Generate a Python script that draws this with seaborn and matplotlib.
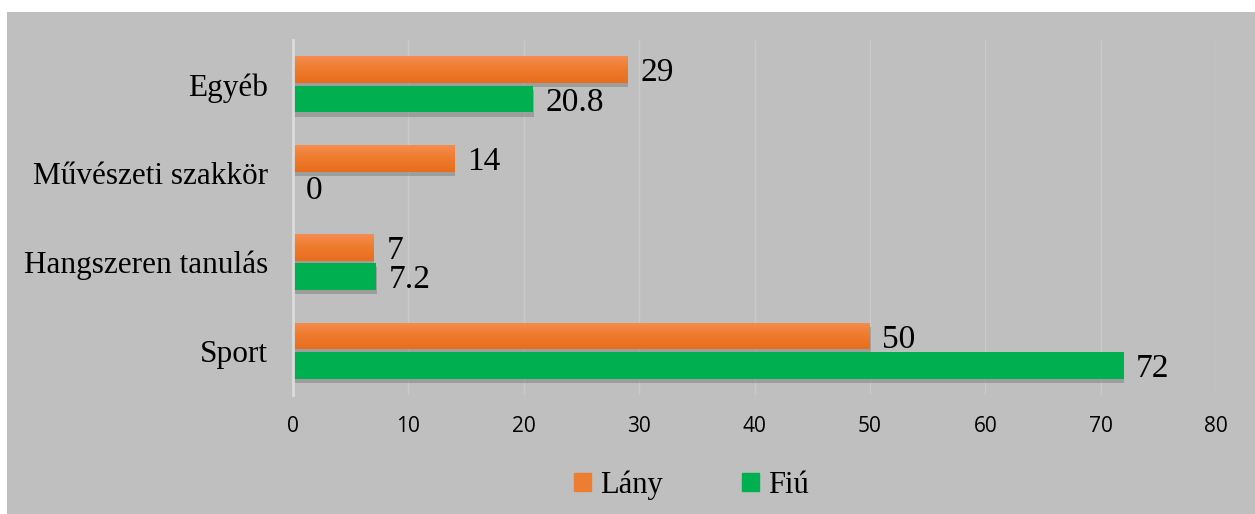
import matplotlib
matplotlib.use("Agg")
import matplotlib.pyplot as plt
import matplotlib.patheffects as pe
from matplotlib.colors import LinearSegmentedColormap
from matplotlib.patches import Rectangle
import numpy as np
import seaborn as sns
import pandas as pd

# Adatok
kategoriak = ["Egyéb", "Művészeti szakkör", "Hangszeren tanulás", "Sport"]
lany = [29, 14, 7, 50]
fiu = [20.8, 0, 7.2, 72]
lany_cimkek = ["29", "14", "7", "50"]
fiu_cimkek = ["20.8", "0", "7.2", "72"]

df = pd.DataFrame({
    "kategoria": kategoriak * 2,
    "ertek": lany + fiu,
    "nem": ["Lány"] * 4 + ["Fiú"] * 4,
})

sns.set_theme(style="white", rc={"text.color": "black", "xtick.color": "black",
                                  "ytick.color": "black"})
plt.rcParams["font.family"] = ["Liberation Serif", "DejaVu Serif"]

SZURKE = "#bfbfbf"
NARANCS = "#ED7D31"
ZOLD = "#00B050"

fig = plt.figure(figsize=(12.55, 5.14), dpi=100)
fig.patch.set_facecolor("white")
fig.patches.append(Rectangle((7 / 1255, 0), 1, 1 - 12 / 514, transform=fig.transFigure,
                             facecolor=SZURKE, edgecolor="none", zorder=-1))
ax = fig.add_axes([293 / 1255, 1 - 395 / 514, (1216 - 293) / 1255, (395 - 40) / 514])
ax.set_facecolor(SZURKE)

sns.barplot(data=df, x="ertek", y="kategoria", hue="nem", orient="h",
            palette={"Lány": NARANCS, "Fiú": ZOLD}, width=0.66, gap=0.08,
            order=kategoriak, hue_order=["Lány", "Fiú"], legend=False, ax=ax,
            edgecolor="none", linewidth=0, saturation=1)

# árnyék a sávok alatt
for p in ax.patches:
    p.set_path_effects([pe.SimplePatchShadow(offset=(0.5, -3), shadow_rgbFace="#6a6a6a", alpha=0.4),
                        pe.Normal()])

# narancs sávok enyhe színátmenettel
grad = LinearSegmentedColormap.from_list("narancs", ["#f58d50", "#ee7a2c", "#e86d1e"])
for p in ax.containers[0]:
    if p.get_width() <= 0:
        continue
    x0, y0 = p.get_x(), p.get_y()
    w, h = p.get_width(), p.get_height()
    im = ax.imshow(np.linspace(0, 1, 50).reshape(-1, 1), cmap=grad, aspect="auto",
                   extent=(x0, x0 + w, y0 + h, y0), origin="upper", zorder=p.get_zorder() + 0.1)
    im.set_clip_path(p)
ax.set_ylim(3.5, -0.5)

for cont, cimkek in zip(ax.containers, [lany_cimkek, fiu_cimkek]):
    for t in ax.bar_label(cont, labels=cimkek, padding=9, fontsize=24, color="black"):
        dx, dy = t.xyann
        t.xyann = (dx, dy - 2.5)

ax.set_xlim(0, 80)
ax.set_xticks(range(0, 81, 10))
ax.set_xlabel("")
ax.set_ylabel("")
ax.xaxis.grid(True, color="#cacaca", linewidth=1)
ax.set_axisbelow(True)
for s in ["top", "right", "bottom"]:
    ax.spines[s].set_visible(False)
ax.spines["left"].set_color("#dcdcdc")
ax.spines["left"].set_linewidth(2)
ax.tick_params(axis="x", length=0, pad=15, labelsize=15)
ax.tick_params(axis="y", length=0, pad=18, labelsize=22.5)
for t in ax.get_xticklabels():
    t.set_fontfamily(["Open Sans", "DejaVu Sans"])

kezelok = [Rectangle((0, 0), 1, 1, color=NARANCS), Rectangle((0, 0), 1, 1, color=ZOLD)]
fig.legend(kezelok, ["Lány", "Fiú"], loc="center", bbox_to_anchor=(0.551, 0.056), ncol=2,
           frameon=False, fontsize=22, handlelength=0.55, handleheight=0.55,
           handletextpad=0.3, columnspacing=2.6)

fig.savefig("out.png", dpi=100)
